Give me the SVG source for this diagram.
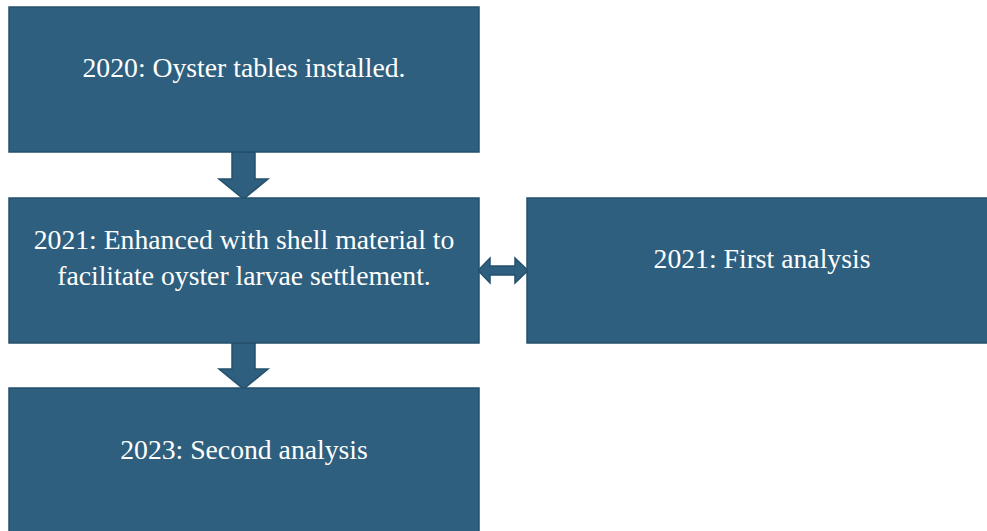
<svg xmlns="http://www.w3.org/2000/svg" width="987" height="531" viewBox="0 0 987 531">
<style>
.box{fill:#2E5F7E;stroke:#24506C;stroke-width:1.5}
.arr{fill:#2E5F7E;stroke:#24506C;stroke-width:1.5;stroke-linejoin:miter}
text{font-family:"Liberation Serif","Times New Roman",serif;font-size:27.7px;fill:#FFFFFF;text-anchor:middle}
</style>
<rect width="987" height="531" fill="#FFFFFF"/>
<g id="connectors">
<path class="arr" d="M232,152 L255,152 L255,179 L268,179 L243.5,199 L219,179 L232,179 Z"/>
<path class="arr" d="M232,343 L255,343 L255,369 L268,369 L243.5,389 L219,369 L232,369 Z"/>
<path class="arr" d="M478,270.5 L490,258 L490,266 L515,266 L515,258 L528,270.5 L515,283 L515,275 L490,275 L490,283 Z"/>
</g>
<g id="n2020">
<rect class="box" x="9" y="7" width="470" height="145"/>
<text x="244" y="77">2020: Oyster tables installed.</text>
</g>
<g id="n2021a">
<rect class="box" x="9" y="198" width="470" height="145"/>
<text x="244" y="249">2021: Enhanced with shell material to</text>
<text x="244" y="285">facilitate oyster larvae settlement.</text>
</g>
<g id="n2021b">
<rect class="box" x="527" y="198" width="470" height="145"/>
<text x="762" y="268">2021: First analysis</text>
</g>
<g id="n2023">
<rect class="box" x="9" y="388" width="470" height="155"/>
<text x="244" y="459">2023: Second analysis</text>
</g>
</svg>
